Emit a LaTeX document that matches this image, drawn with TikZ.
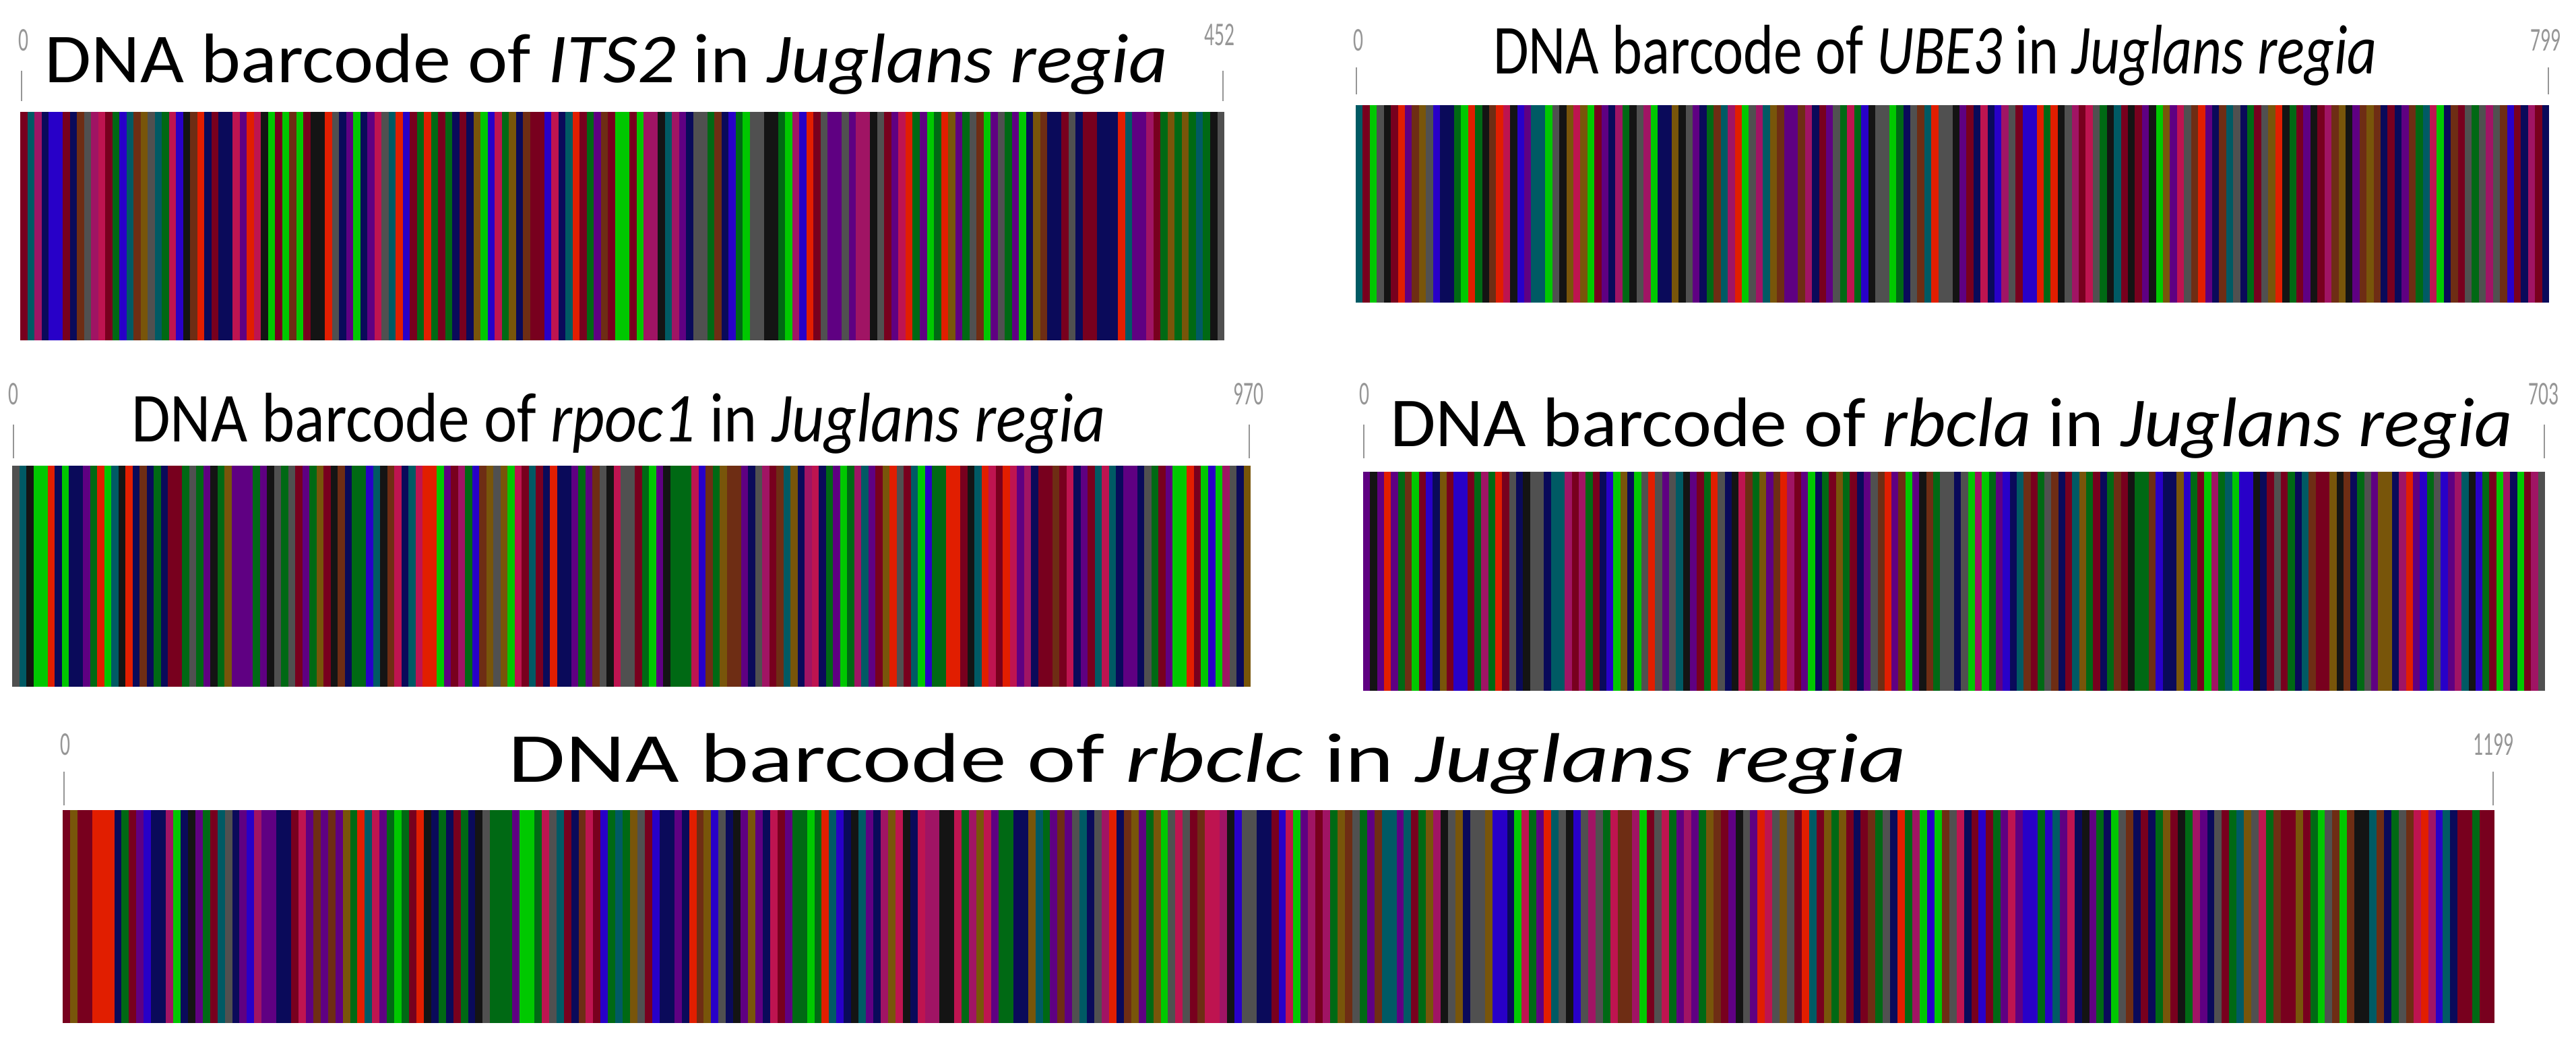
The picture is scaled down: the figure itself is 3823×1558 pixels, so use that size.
\documentclass[tikz,border=0pt]{standalone}
\usepackage{fontspec}
\setmainfont{Carlito}
\usepackage{graphicx}
\definecolor{bMaroon}{RGB}{120,0,30}
\definecolor{bCrimson}{RGB}{190,20,80}
\definecolor{bGreen}{RGB}{0,200,0}
\definecolor{bDGreen}{RGB}{0,105,20}
\definecolor{bBlue}{RGB}{40,0,200}
\definecolor{bNavy}{RGB}{10,10,90}
\definecolor{bPurple}{RGB}{95,0,130}
\definecolor{bBlack}{RGB}{20,20,20}
\definecolor{bTeal}{RGB}{0,90,100}
\definecolor{bOlive}{RGB}{120,85,10}
\definecolor{bRed}{RGB}{225,30,0}
\definecolor{bGray}{RGB}{80,80,80}
\definecolor{bBrown}{RGB}{110,45,20}
\definecolor{bMagenta}{RGB}{160,20,100}
\definecolor{tickgray}{RGB}{150,150,150}
\pgfmathdeclarerandomlist{pal}{{bMaroon}{bCrimson}{bGreen}{bDGreen}{bBlue}{bNavy}{bPurple}{bBlack}{bTeal}{bOlive}{bRed}{bGray}{bBrown}{bMagenta}{bMaroon}{bDGreen}{bNavy}{bGray}{bPurple}}
\newcommand\barcodestrip[5]{%
  \pgfmathsetmacro\bw{(#3-#1)/#5}%
  \foreach \i in {1,...,#5}{%
    \pgfmathrandomitem{\cc}{pal}%
    \fill[\cc] ({#1+(\i-1)*\bw},#2) rectangle ({min(#1+\i*\bw+0.6,#3)},#4);
  }%
}
\tikzset{
  title/.style={font=\fontsize{29.6pt}{32pt}\selectfont, inner sep=0pt, anchor=center},
  ticklab/.style={font=\fontsize{14pt}{15pt}\selectfont, text=tickgray, inner sep=0pt},
  tickline/.style={draw=tickgray, line width=0.8pt}
}
\newcommand\ttl[2]{\resizebox{#1}{\height}{DNA barcode of \textit{#2} in \textit{Juglans regia}}}
\begin{document}
\begin{tikzpicture}[x=0.01cm,y=-0.01cm]
\useasboundingbox (0,0) rectangle (3823,1558);
\fill[white] (0,0) rectangle (3823,1558);
\pgfmathsetseed{4711}
% ITS2
\barcodestrip{30}{166}{1817}{505}{170}
\node[title] (t1) at (900,95) {\ttl{16.65cm}{ITS2}};
\node[ticklab,xscale=0.6] (l1a) at (35,60) {0};
\node[ticklab,xscale=0.6] (l1b) at (1810,52) {452};
\draw[tickline] (32,105) -- (32,150);
\draw[tickline] (1815,105) -- (1815,150);
% UBE3
\barcodestrip{2012}{156}{3783}{449}{170}
\node[title] (t2) at (2872,82) {\ttl{13.11cm}{UBE3}};
\node[ticklab,xscale=0.6] (l2a) at (2016,60) {0};
\node[ticklab,xscale=0.6] (l2b) at (3778,60) {799};
\draw[tickline] (2013,100) -- (2013,140);
\draw[tickline] (3782,100) -- (3782,140);
% rpoc1
\barcodestrip{18}{691}{1856}{1019}{175}
\node[title] (t3) at (918,628) {\ttl{14.45cm}{rpoc1}};
\node[ticklab,xscale=0.6] (l3a) at (20,585) {0};
\node[ticklab,xscale=0.6] (l3b) at (1853,585) {970};
\draw[tickline] (20,630) -- (20,680);
\draw[tickline] (1854,630) -- (1854,680);
% rbcla
\barcodestrip{2023}{700}{3777}{1025}{170}
\node[title] (t4) at (2896,635) {\ttl{16.65cm}{rbcla}};
\node[ticklab,xscale=0.6] (l4a) at (2025,585) {0};
\node[ticklab,xscale=0.6] (l4b) at (3775,585) {703};
\draw[tickline] (2024,630) -- (2024,680);
\draw[tickline] (3776,630) -- (3776,680);
% rbclc
\barcodestrip{93}{1202}{3702}{1518}{330}
\node[title] (t5) at (1792,1133) {\ttl{20.73cm}{rbclc}};
\node[ticklab,xscale=0.6] (l5a) at (97,1105) {0};
\node[ticklab,xscale=0.6] (l5b) at (3700,1105) {1199};
\draw[tickline] (95,1145) -- (95,1195);
\draw[tickline] (3700,1145) -- (3700,1195);
\end{tikzpicture}
\end{document}
